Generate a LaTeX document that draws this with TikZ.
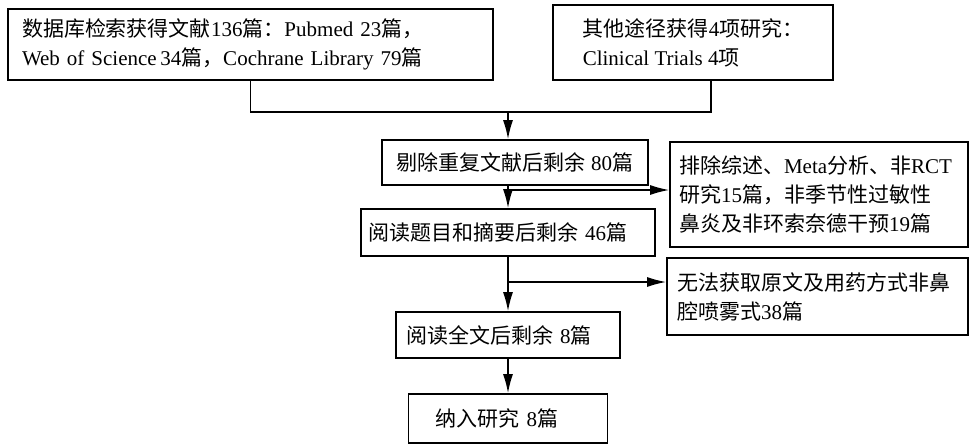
\documentclass[tikz,border=0pt]{standalone}
\usepackage{fontspec}
\setmainfont{Liberation Serif}
\newfontfamily\cjk{Noto Sans CJK SC}
\usetikzlibrary{arrows.meta,positioning}
\newcommand{\zh}[1]{{\cjk #1}}

\begin{document}
\begin{tikzpicture}[x=1pt,y=-1pt,
  box/.style={draw,line width=1.6pt,align=left,inner ysep=0pt,
    font=\fontsize{21}{29}\selectfont},
  link/.style={line width=1.6pt},
  flow/.style={line width=1.6pt,-{Latex[length=19pt,width=10pt]}}]
\useasboundingbox (0,0) rectangle (969,444);
% sources
\node[box,minimum height=71,text width=457,inner xsep=14] (db) at (250.5,44.5)
  {\zh{数据库检索获得文献}136\zh{篇：}Pubmed 23\zh{篇，}\\
   Web of Science\,34\zh{篇，}Cochrane Library 79\zh{篇}};
\node[box,minimum width=280,minimum height=75] (other) at (693,42.5)
  {\zh{其他途径获得}4\zh{项研究：}\\Clinical Trials 4\zh{项}};
% main column
\node[box,minimum width=266,minimum height=45] (dedup) at (515,162.5)
  {\zh{剔除重复文献后剩余} 80\zh{篇}};
\node[box,minimum height=47,text width=280,inner xsep=7] (screen) at (508,232.5)
  {\zh{阅读题目和摘要后剩余} 46\zh{篇}};
\node[box,minimum height=46,text width=204,inner xsep=10] (full) at (508,335)
  {\zh{阅读全文后剩余} 8\zh{篇}};
\node[box,minimum height=49,text width=145,inner xsep=27] (incl) at (508,418.5)
  {\zh{纳入研究} 8\zh{篇}};
% exclusions
\node[box,minimum height=105,text width=280,inner xsep=9] (excl1) at (819,194.5)
  {\zh{排除综述、}Meta\zh{分析、非}RCT\\
   \zh{研究}15\zh{篇，非季节性过敏性}\\
   \zh{鼻炎及非环索奈德干预}19\zh{篇}};
\node[box,minimum height=77,text width=281,inner xsep=10] (excl2) at (817.5,296.5)
  {\zh{无法获取原文及用药方式非鼻}\\\zh{腔喷雾式}38\zh{篇}};
% connectors
\coordinate (join) at (508,112);
\coordinate (stem) at ([xshift=18]other.south);
\coordinate (cut1) at (508,190);
\coordinate (cut2) at (508,282);
\draw[link] (db.south) |- (stem |- join) -- (stem);
\draw[flow] (join) -- (join |- dedup.north);
\draw[flow] (dedup.south -| screen.north) -- (screen.north);
\draw[flow] (cut1) -- (cut1 -| excl1.west);
\draw[flow] (screen.south) -- (full.north);
\draw[flow] (cut2) -- (cut2 -| excl2.west);
\draw[flow] (full.south) -- (incl.north);
\end{tikzpicture}
\end{document}
